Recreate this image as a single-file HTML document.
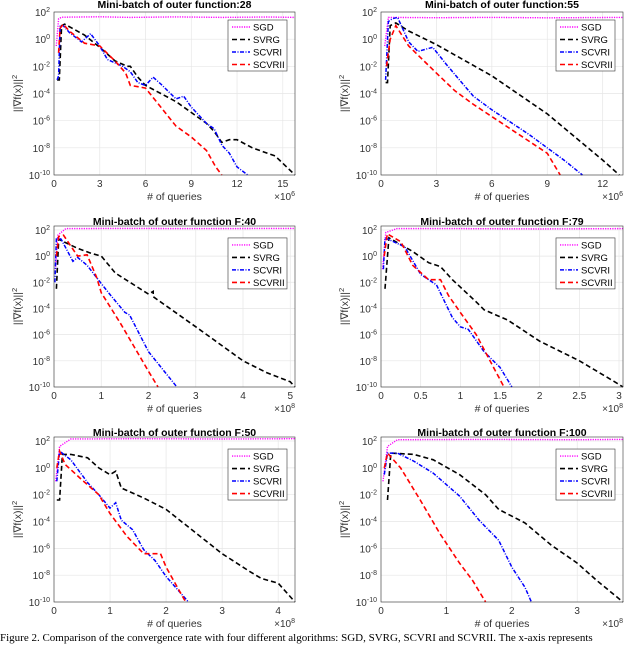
<!DOCTYPE html>
<html><head><meta charset="utf-8"><style>
body{margin:0;background:#fff;width:640px;height:645px;overflow:hidden}
svg text{font-family:"Liberation Sans",sans-serif}
</style></head><body>
<svg id="fig" width="640" height="645" xmlns="http://www.w3.org/2000/svg"></svg>
<script>
// ---- data (x in axis units, y as log10 of ||grad||^2) ----
const titles=["Mini-batch of outer function:28","Mini-batch of outer function:55","Mini-batch of outer function F:40","Mini-batch of outer function F:79","Mini-batch of outer function F:50","Mini-batch of outer function F:100"];
const xExp=[6,6,8,8,8,8];
const xMax=[15.8,13.1,5.1,3.05,4.3,3.7];
const yMax=[2,2,2.3,2.3,2.3,2.3];
const xTicks=[[0,3,6,9,12,15],[0,3,6,9,12],[0,1,2,3,4,5],[0,0.5,1,1.5,2,2.5,3],[0,1,2,3,4],[0,1,2,3]];
const yTicks=[2,0,-2,-4,-6,-8,-10];
const sgd=[
[[0.15,-0.5],[0.3,1.5],[0.5,1.62],[3,1.65],[5,1.6],[8,1.64],[11,1.6],[14,1.63],[15.8,1.6]],
[[0.2,-0.5],[0.4,1.6],[3,1.58],[6,1.6],[9,1.57],[13.1,1.6]],
[[0.03,-1],[0.08,1.6],[0.25,2.1],[1.5,2.12],[3,2.1],[5.1,2.12]],
[[0.02,-1],[0.06,1.8],[0.2,2.1],[1,2.1],[2,2.08],[3.05,2.1]],
[[0.03,-1],[0.1,1.6],[0.3,2.15],[1.5,2.17],[3,2.15],[4.3,2.17]],
[[0.03,-1],[0.1,1.6],[0.25,2.1],[1.5,2.12],[3,2.1],[3.7,2.12]]];
const svrg=[
[[0.2,-3],[0.35,-3],[0.5,1],[0.7,1.1],[1.2,0.8],[2,0.3],[3,-0.6],[4,-1.6],[4.8,-2],[5,-2],[5.5,-2.8],[6,-3.4],[7,-4],[8,-4.6],[9,-5.4],[10,-6.2],[10.5,-6.8],[11,-7.6],[11.5,-7.4],[12,-7.4],[13,-8],[14,-8.4],[14.5,-8.6],[15.8,-10]],
[[0.25,-3.2],[0.35,-3.2],[0.5,1],[0.8,1.2],[1.5,0.6],[3,-0.4],[6,-2.7],[9,-5.5],[12,-8.9],[12.9,-10]],
[[0.05,-2.5],[0.1,1.3],[0.2,1.1],[0.5,0.6],[0.8,0.2],[1,0],[1.3,-1.3],[2,-2.9],[2.1,-2.7],[2.1,-3.1],[3,-5.4],[4,-8],[4.5,-8.9],[5,-9.6],[5.1,-10]],
[[0.05,-2.5],[0.1,1.4],[0.4,0.35],[0.6,-0.5],[0.75,-0.8],[0.9,-1.8],[1.2,-3.5],[1.3,-4.1],[1.6,-4.9],[1.8,-5.7],[2,-6.5],[2.5,-8],[3,-9.8],[3.05,-10]],
[[0.05,-2.4],[0.1,-2.4],[0.15,1],[0.3,1],[0.6,0.75],[0.8,0],[1,-0.5],[1.1,-0.25],[1.2,-1.5],[1.6,-2.25],[2,-3.1],[3,-6.4],[3.5,-7.75],[3.7,-8.25],[4,-8.6],[4.3,-10]],
[[0.1,-2.4],[0.15,1.1],[0.5,1],[0.8,0.6],[1.2,-0.5],[1.6,-2],[1.8,-3.1],[2.2,-4.1],[2.6,-5.75],[3,-7.1],[3.3,-8.4],[3.7,-10]]];
const scvr1=[
[[0.2,-3],[0.3,-2.7],[0.4,1],[0.6,1],[1,0.5],[1.8,-0.2],[2.4,0.4],[3,-0.5],[3.5,-1.5],[4.5,-2],[5,-2.4],[5.5,-3.2],[6,-3.4],[6.5,-2.8],[7,-3.3],[8,-4.4],[8.5,-4.2],[9,-5],[10,-6.2],[10.5,-6.6],[11,-7.8],[11.5,-8.4],[12,-9.4],[12.7,-10]],
[[0.25,-3],[0.4,1.3],[0.6,1.5],[0.9,1.6],[1.5,-0.2],[2,-0.9],[2.8,-0.6],[3.5,-1.8],[4.5,-3.4],[5,-4.2],[6,-5.2],[8,-7],[10,-9],[10.9,-10]],
[[0.02,-2],[0.05,1.4],[0.15,1.3],[0.4,-0.4],[0.5,-0.1],[0.7,-0.7],[1,-2.1],[1.2,-3],[1.5,-4.3],[1.6,-4.5],[2,-7.3],[2.6,-10]],
[[0.03,-1],[0.05,1.4],[0.3,0.7],[0.5,-1.4],[0.7,-2.2],[0.9,-4.7],[1,-5.4],[1.1,-5.6],[1.3,-7.3],[1.5,-8.5],[1.6,-9.5],[1.65,-10]],
[[0.05,-1],[0.1,1.25],[0.3,0.6],[0.6,-1.1],[0.8,-2],[1,-3],[1.1,-2.6],[1.2,-3.9],[1.4,-4.6],[1.6,-6.1],[1.8,-6.9],[2,-8.1],[2.4,-10]],
[[0.05,-0.5],[0.1,1.1],[0.25,1.1],[0.5,0.5],[0.8,-0.4],[1.2,-2.1],[1.5,-3.9],[1.8,-5.4],[2,-7.4],[2.2,-8.9],[2.3,-10]]];
const scvr2=[
[[0.3,-1],[0.4,0.8],[0.6,1.1],[1,0.6],[2,-0.3],[3,-0.5],[4,-1.6],[4.7,-2.5],[5,-3.4],[5.5,-3.5],[6,-3.6],[7,-5],[8,-6.4],[9,-7.2],[10,-8.2],[10.6,-9.4],[11,-10]],
[[0.3,-2],[0.5,0],[0.8,1],[1.5,-0.5],[3,-2.5],[4,-3.8],[5,-4.8],[7,-6.6],[9,-8.4],[9.7,-10]],
[[0.05,0],[0.1,1.5],[0.2,1.6],[0.5,0],[0.7,0.1],[0.9,-1.6],[1,-2.8],[1.4,-5.1],[2,-8.8],[2.2,-10]],
[[0.04,0],[0.08,1.7],[0.25,1.1],[0.4,-0.7],[0.6,-1.8],[0.75,-1.8],[0.85,-3],[1,-4.3],[1.2,-6],[1.4,-8.3],[1.55,-10]],
[[0.05,0],[0.1,1.25],[0.2,0.25],[0.5,-0.9],[0.8,-2],[1,-3.4],[1.3,-5.1],[1.6,-6.4],[1.9,-6.4],[2,-7.4],[2.2,-8.9],[2.35,-10]],
[[0.05,0],[0.1,1.1],[0.3,0],[0.6,-2.4],[0.9,-4.9],[1.2,-7.1],[1.4,-8.4],[1.6,-10]]];
const legendLabels=["SGD","SVRG","SCVRI","SCVRII"];

// ---- drawing ----
const NS="http://www.w3.org/2000/svg";
const fig=document.getElementById('fig');
function mk(tag,attrs,parent){const e=document.createElementNS(NS,tag);for(const k in attrs)e.setAttribute(k,attrs[k]);(parent||fig).appendChild(e);return e;}
const cols=[[54,295],[381,623]];
const rows=[[12,175],[226,387],[437,602]];
const styles=[
 {stroke:"#ff00ff",dash:"1.2,1.2",w:1.4},
 {stroke:"#000",dash:"5,3",w:1.6},
 {stroke:"#0000ff",dash:"4,1.5,1,1.5",w:1.5},
 {stroke:"#ff0000",dash:"5,3",w:1.6}];
for(let p=0;p<6;p++){
  const [x0,x1]=cols[p%2],[y0,y1]=rows[Math.floor(p/2)];
  const g=mk('g',{});
  
  
  const ym=yMax[p];
  const sx=v=>x0+(v/xMax[p])*(x1-x0);
  const sy=v=>y0+(ym-v)/(ym+10)*(y1-y0);
  yTicks.forEach(t=>{const l=mk('line',{x1:x0,x2:x1,y1:sy(t),y2:sy(t),stroke:"#e6e6e6","stroke-width":0.7},g);
    });
  xTicks[p].forEach(t=>{const l=mk('line',{x1:sx(t),x2:sx(t),y1:y0,y2:y1,stroke:"#e6e6e6","stroke-width":0.7},g);
    });
  const series=[sgd[p],svrg[p],scvr1[p],scvr2[p]];
  series.forEach((pts,i)=>{
    const d=pts.map((q,j)=>(j?'L':'M')+sx(q[0]).toFixed(1)+','+sy(q[1]).toFixed(1)).join('');
    const path=mk('path',{d:d,fill:"none",stroke:styles[i].stroke,"stroke-width":styles[i].w,"stroke-dasharray":styles[i].dash},g);
    
    
  });
  const box=mk('rect',{x:x0,y:y0,width:x1-x0,height:y1-y0,fill:"none",stroke:"#333","stroke-width":0.6},g);
  
  yTicks.forEach(t=>{
    const tx=mk('text',{x:x0-4,y:sy(t)+4,"font-size":10,"text-anchor":"end",fill:"#333"},g);
    
    tx.textContent="10";
    const s=mk('tspan',{dy:-4,"font-size":7},tx);s.textContent=t;
  });
  xTicks[p].forEach(t=>{
    const tx=mk('text',{x:sx(t),y:y1+12,"font-size":10,"text-anchor":"middle",fill:"#333"},g);
    
    tx.textContent=t;
  });
  const ex=mk('text',{x:x1,y:y1+25,"font-size":10,"text-anchor":"end",fill:"#333"},g);
  
  ex.textContent="×10";const es=mk('tspan',{dy:-4,"font-size":7},ex);es.textContent=xExp[p];
  const xl=mk('text',{x:(x0+x1)/2,y:y1+25,"font-size":10.5,"text-anchor":"middle",fill:"#333"},g);
  
  xl.textContent="# of queries";
  const yl=mk('text',{x:0,y:0,"font-size":10.5,"text-anchor":"middle",fill:"#333",transform:`translate(${x0-33},${(y0+y1)/2}) rotate(-90)`},g);
  
  yl.textContent="||∇f(x)||";const ys=mk('tspan',{dy:-4,"font-size":7.5},yl);ys.textContent="2";
  const tt=mk('text',{x:(x0+x1)/2,y:y0-(ym>2?1:4),"font-size":10.5,"font-weight":"bold","text-anchor":"middle",fill:"#000"},g);
  
  tt.textContent=titles[p];
  const lx=x1-67,ly=sy(2)+8;
  const lb=mk('rect',{x:lx,y:ly,width:59,height:51,fill:"#fff",stroke:"#333","stroke-width":0.6},g);
  
  legendLabels.forEach((lab,i)=>{
    const yy=ly+7+i*12.5;
    const ln=mk('line',{x1:lx+4,x2:lx+22,y1:yy,y2:yy,stroke:styles[i].stroke,"stroke-width":styles[i].w,"stroke-dasharray":styles[i].dash},g);
    
    const t=mk('text',{x:lx+25,y:yy+3.5,"font-size":9.5,fill:"#000"},g);
    
    t.textContent=lab;
  });
}
const cap=mk('text',{x:0,y:641,"font-size":11,fill:"#000"});

cap.setAttribute('style','font-family:"Liberation Serif",serif');
cap.textContent="Figure 2. Comparison of the convergence rate with four different algorithms: SGD, SVRG, SCVRI and SCVRII. The x-axis represents";
</script>
</body></html>
